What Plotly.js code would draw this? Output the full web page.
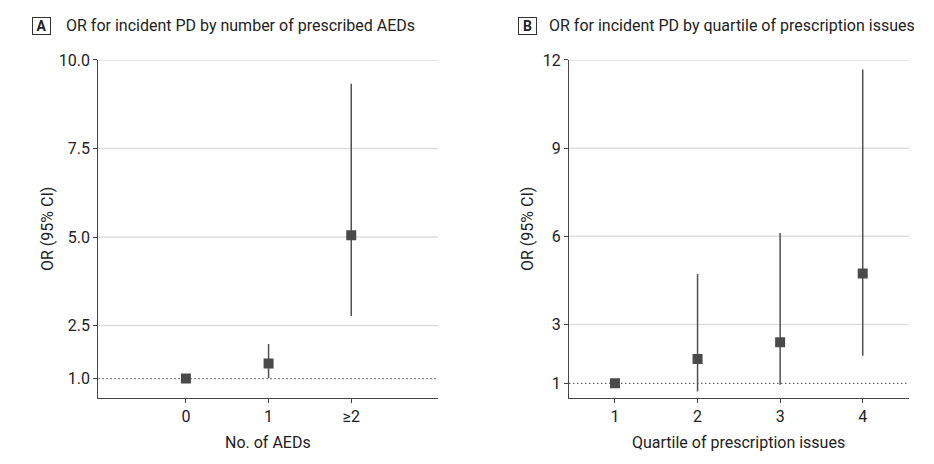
<!DOCTYPE html>
<html>
<head>
<meta charset="utf-8">
<script src="https://cdn.plot.ly/plotly-3.0.1.min.js"></script>
<style>html,body{margin:0;padding:0;background:#fff}#chart{width:934px;height:464px}</style>
</head>
<body>
<div id="chart"></div>
<script>
// Panel A: OR by number of prescribed AEDs
const categoriesA = ["0", "1", "≥2"];
const orA = [1.0, 1.43, 5.05];
const lowerA = [null, 1.01, 2.77];
const upperA = [null, 1.98, 9.33];
const yTicksA = [1, 2.5, 5, 7.5, 10];
const yTickTextA = ["1.0", "2.5", "5.0", "7.5", "10.0"];

// Panel B: OR by quartile of prescription issues
const categoriesB = ["1", "2", "3", "4"];
const orB = [1.0, 1.83, 2.4, 4.74];
const lowerB = [null, 0.72, 0.95, 1.94];
const upperB = [null, 4.72, 6.11, 11.68];
const yTicksB = [1, 3, 6, 9, 12];
const yTickTextB = ["1", "3", "6", "9", "12"];

const refValue = 1;
const FONT = "Roboto, 'Liberation Sans', sans-serif";
const TXT = "#222";
const MARK = "#4a4a4a";

function ciTrace(cats, or, lo, up, xa, ya) {
  return {
    type: "scatter", mode: "markers", x: cats, y: or, xaxis: xa, yaxis: ya,
    marker: {symbol: "square", size: 10, color: MARK},
    error_y: {
      type: "data", symmetric: false,
      array: up.map((u, i) => u == null ? 0 : u - or[i]),
      arrayminus: lo.map((l, i) => l == null ? 0 : or[i] - l),
      width: 0, thickness: 1.5, color: "#505050"
    },
    showlegend: false, hoverinfo: "x+y"
  };
}

const data = [
  ciTrace(categoriesA, orA, lowerA, upperA, "x", "y"),
  ciTrace(categoriesB, orB, lowerB, upperB, "x2", "y2")
];

const axisCommon = {
  showline: true, linecolor: "#444", linewidth: 1,
  ticks: "outside", ticklen: 4, tickcolor: "#444", tickwidth: 1,
  showgrid: false, zeroline: false,
  tickfont: {family: FONT, size: 16, color: TXT}
};

const shapes = [];
function gridShapes(ticks, xref, yref) {
  ticks.filter(v => v !== refValue).forEach(v => {
    shapes.push({type: "line", xref: xref + " domain", yref: yref, x0: 0, x1: 1, y0: v, y1: v,
      line: {color: "#dedede", width: 1.5}, layer: "below"});
  });
  shapes.push({type: "line", xref: xref + " domain", yref: yref, x0: 0, x1: 1, y0: refValue, y1: refValue,
    line: {color: "#666", width: 1.2, dash: "1.5px,2.5px"}, layer: "below"});
}
gridShapes(yTicksA, "x", "y");
gridShapes(yTicksB, "x2", "y2");

const yDom = [0.1416, 0.8707];
const layout = {
  width: 934, height: 464,
  margin: {l: 0, r: 0, t: 0, b: 0},
  paper_bgcolor: "#fff", plot_bgcolor: "#fff",
  font: {family: FONT, size: 16, color: TXT},
  xaxis: Object.assign({}, axisCommon, {domain: [0.1052, 0.4690], type: "category", range: [-1.06, 3.05], anchor: "y"}),
  yaxis: Object.assign({}, axisCommon, {domain: yDom, range: [0.444, 10], tickvals: yTicksA, ticktext: yTickTextA, anchor: "x"}),
  xaxis2: Object.assign({}, axisCommon, {domain: [0.6092, 0.9732], type: "category", range: [-0.557, 3.56], anchor: "y2"}),
  yaxis2: Object.assign({}, axisCommon, {domain: yDom, range: [0.49, 12], tickvals: yTicksB, ticktext: yTickTextB, anchor: "x2"}),
  shapes: shapes,
  annotations: [
    {text: "<b>A</b>", xref: "paper", yref: "paper", x: 41 / 934, y: 1 - 26 / 464, xanchor: "center", yanchor: "middle",
      showarrow: false, bordercolor: "#333", borderwidth: 1, borderpad: 1, width: 15, height: 14, font: {size: 14}},
    {text: "OR for incident PD by number of prescribed AEDs", xref: "paper", yref: "paper", x: 64 / 934, y: 1 - 26 / 464,
      xanchor: "left", yanchor: "middle", showarrow: false, font: {size: 16}},
    {text: "<b>B</b>", xref: "paper", yref: "paper", x: 527 / 934, y: 1 - 26 / 464, xanchor: "center", yanchor: "middle",
      showarrow: false, bordercolor: "#333", borderwidth: 1, borderpad: 1, width: 15, height: 14, font: {size: 14}},
    {text: "OR for incident PD by quartile of prescription issues", xref: "paper", yref: "paper", x: 547 / 934, y: 1 - 26 / 464,
      xanchor: "left", yanchor: "middle", showarrow: false, font: {size: 16}},
    {text: "No. of AEDs", xref: "x domain", yref: "paper", x: 0.5, y: 1 - 442 / 464, xanchor: "center", yanchor: "middle", showarrow: false, font: {size: 16}},
    {text: "Quartile of prescription issues", xref: "x2 domain", yref: "paper", x: 0.5, y: 1 - 442 / 464, xanchor: "center", yanchor: "middle", showarrow: false, font: {size: 16}},
    {text: "OR (95% CI)", xref: "paper", yref: "paper", x: 47 / 934, y: 1 - 229 / 464, xanchor: "center", yanchor: "middle", textangle: -90, showarrow: false, font: {size: 16}},
    {text: "OR (95% CI)", xref: "paper", yref: "paper", x: 527 / 934, y: 1 - 229 / 464, xanchor: "center", yanchor: "middle", textangle: -90, showarrow: false, font: {size: 16}}
  ]
};

Plotly.newPlot("chart", data, layout, {displayModeBar: false, staticPlot: true});
</script>
</body>
</html>
